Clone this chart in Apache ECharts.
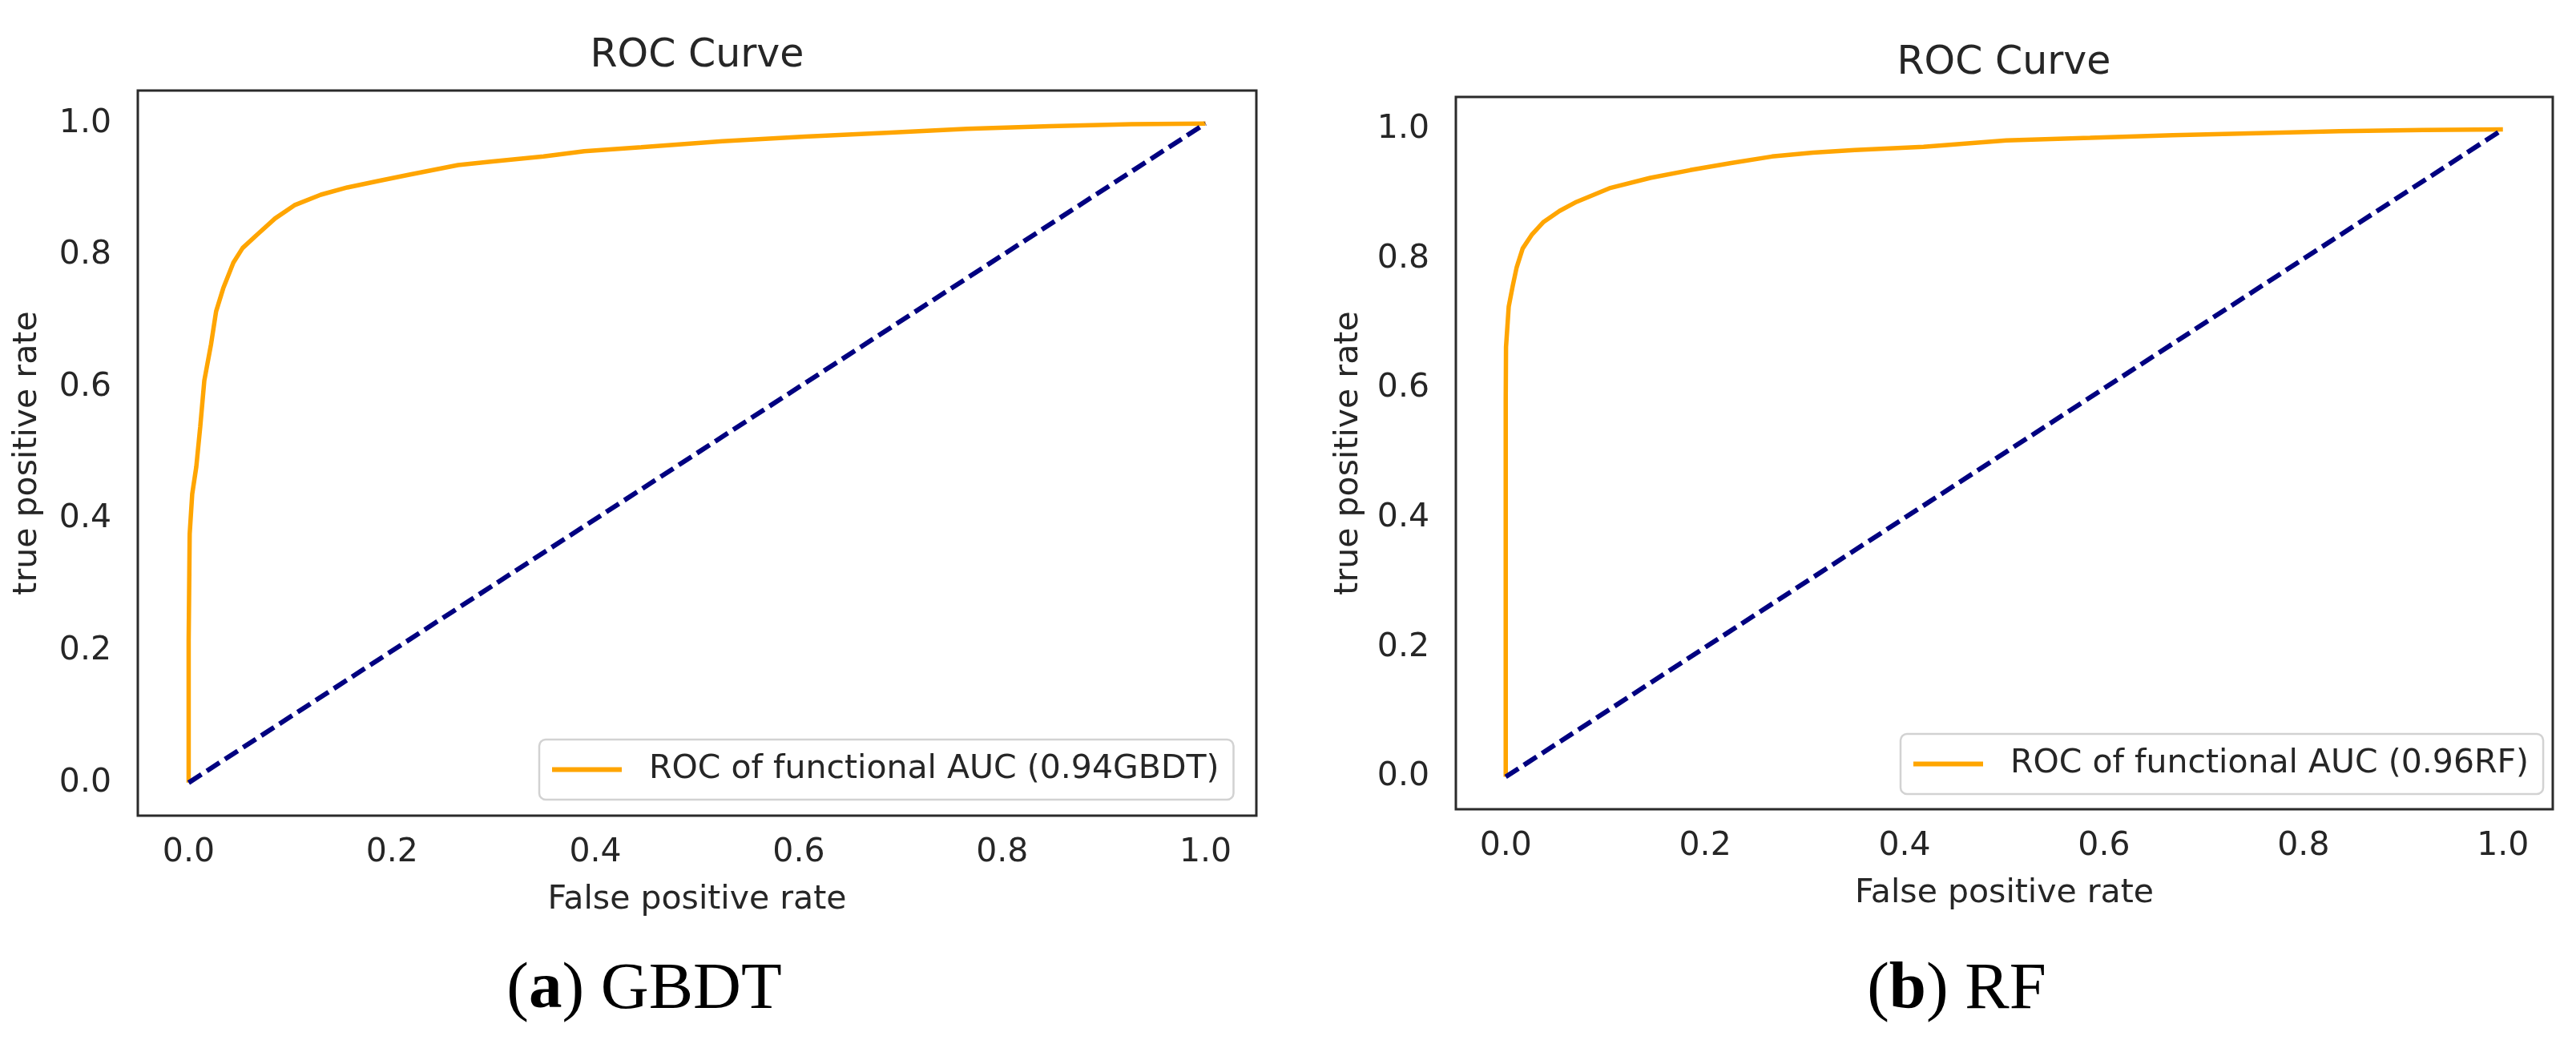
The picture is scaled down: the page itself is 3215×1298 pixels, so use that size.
<!DOCTYPE html>
<html>
<head>
<meta charset="utf-8">
<script src="https://cdn.jsdelivr.net/npm/echarts@6/dist/echarts.min.js"></script>
<style>
html,body{margin:0;padding:0;background:#fff;}
#chart{width:3215px;height:1298px;}
</style>
</head>
<body>
<div id="chart"></div>
<script>
// ---- data ----
const tickValues = [0, 0.2, 0.4, 0.6, 0.8, 1.0];
const gbdtFpr = [0, 0, 0.001, 0.0035, 0.0075, 0.0114, 0.0154, 0.022, 0.027, 0.034, 0.044, 0.053, 0.067, 0.085, 0.104, 0.130, 0.156, 0.187, 0.216, 0.265, 0.297, 0.349, 0.389, 0.445, 0.525, 0.606, 0.686, 0.766, 0.847, 0.927, 1.0];
const gbdtTpr = [0, 0.215, 0.377, 0.438, 0.479, 0.54, 0.61, 0.665, 0.715, 0.75, 0.789, 0.811, 0.831, 0.856, 0.876, 0.892, 0.903, 0.913, 0.922, 0.937, 0.942, 0.950, 0.958, 0.964, 0.973, 0.980, 0.986, 0.992, 0.996, 0.999, 1.0];
const rfFpr = [0, 0, 0.0003, 0.003, 0.007, 0.011, 0.017, 0.026, 0.038, 0.054, 0.071, 0.104, 0.145, 0.185, 0.226, 0.267, 0.308, 0.350, 0.419, 0.502, 0.586, 0.669, 0.753, 0.836, 0.920, 1.0];
const rfTpr = [0, 0.581, 0.664, 0.726, 0.758, 0.787, 0.816, 0.837, 0.857, 0.874, 0.888, 0.909, 0.925, 0.937, 0.948, 0.958, 0.964, 0.968, 0.973, 0.983, 0.987, 0.991, 0.994, 0.997, 0.999, 1.0];
const diagX = [0, 1];
const diagY = [0, 1];
const gbdtName = 'ROC of functional AUC (0.94GBDT)';
const rfName = 'ROC of functional AUC (0.96RF)';
const titleText = 'ROC Curve';
const xName = 'False positive rate';
const yName = 'true positive rate';

// ---- chart ----
const TXT = '#262626';
const FONT = 'DejaVu Sans';
const pair = (xs, ys) => xs.map((x, i) => [x, ys[i]]);

function xAxisCfg(gi) {
  return {
    type: 'value', gridIndex: gi, min: -0.05, max: 1.05,
    name: xName, nameLocation: 'middle', nameGap: 85,
    nameTextStyle: {fontFamily: FONT, fontSize: 41, color: TXT},
    axisLine: {show: false}, axisTick: {show: false}, splitLine: {show: false},
    axisLabel: {customValues: tickValues, formatter: v => v.toFixed(1), margin: 26,
      fontFamily: FONT, fontSize: 41, color: TXT}
  };
}
function yAxisCfg(gi, gap) {
  return {
    type: 'value', gridIndex: gi, min: -0.05, max: 1.05,
    name: yName, nameLocation: 'middle', nameGap: gap, nameRotate: 90,
    nameTextStyle: {fontFamily: FONT, fontSize: 41, color: TXT},
    axisLine: {show: false}, axisTick: {show: false}, splitLine: {show: false},
    axisLabel: {customValues: tickValues, formatter: v => v.toFixed(1), margin: 33,
      fontFamily: FONT, fontSize: 41, color: TXT}
  };
}
function legendCfg(name, left, top) {
  return {
    data: [name], left: left, top: top, orient: 'horizontal',
    icon: 'rect', itemWidth: 87, itemHeight: 6,
    backgroundColor: '#fff', borderColor: '#d2d2d2', borderWidth: 2.5, borderRadius: 8,
    padding: [17, 18, 17, 16],
    textStyle: {fontFamily: FONT, fontSize: 41, color: TXT, padding: [0, 0, 0, 29]}
  };
}

const chart = echarts.init(document.getElementById('chart'), null, {renderer: 'canvas'});
chart.setOption({
  animation: false,
  backgroundColor: '#fff',
  grid: [
    {left: 172, top: 113, width: 1396, height: 905, show: true, borderColor: '#2b2b2b', borderWidth: 3, backgroundColor: 'transparent'},
    {left: 1817, top: 121, width: 1369, height: 889, show: true, borderColor: '#2b2b2b', borderWidth: 3, backgroundColor: 'transparent'}
  ],
  xAxis: [xAxisCfg(0), xAxisCfg(1)],
  yAxis: [yAxisCfg(0, 117), yAxisCfg(1, 113)],
  legend: [legendCfg(gbdtName, 673, 923), legendCfg(rfName, 2372, 916)],
  series: [
    {name: gbdtName, type: 'line', xAxisIndex: 0, yAxisIndex: 0, data: pair(gbdtFpr, gbdtTpr),
      symbol: 'none', showSymbol: false, color: '#FFA500', lineStyle: {color: '#FFA500', width: 5.5}, z: 2},
    {name: 'diag-a', type: 'line', xAxisIndex: 0, yAxisIndex: 0, data: pair(diagX, diagY),
      symbol: 'none', showSymbol: false, lineStyle: {color: '#000080', width: 6, type: [19, 8]}, z: 3},
    {name: rfName, type: 'line', xAxisIndex: 1, yAxisIndex: 1, data: pair(rfFpr, rfTpr),
      symbol: 'none', showSymbol: false, color: '#FFA500', lineStyle: {color: '#FFA500', width: 5.5}, z: 2},
    {name: 'diag-b', type: 'line', xAxisIndex: 1, yAxisIndex: 1, data: pair(diagX, diagY),
      symbol: 'none', showSymbol: false, lineStyle: {color: '#000080', width: 6, type: [19, 8]}, z: 3}
  ],
  graphic: [
    {type: 'text', x: 870, y: 70, style: {text: titleText, font: '49px "DejaVu Sans"', fill: TXT, align: 'center', verticalAlign: 'middle'}},
    {type: 'text', x: 2501, y: 79, style: {text: titleText, font: '49px "DejaVu Sans"', fill: TXT, align: 'center', verticalAlign: 'middle'}},
    {type: 'text', x: 804, y: 1236, style: {text: '({b|a}) GBDT', font: '83px "Liberation Serif"', fill: '#000', align: 'center', verticalAlign: 'middle',
      rich: {b: {fontWeight: 'bold', fontSize: 83, fontFamily: 'Liberation Serif', fill: '#000'}}}},
    {type: 'text', x: 2442, y: 1236, style: {text: '({b|b}) RF', font: '83px "Liberation Serif"', fill: '#000', align: 'center', verticalAlign: 'middle',
      rich: {b: {fontWeight: 'bold', fontSize: 83, fontFamily: 'Liberation Serif', fill: '#000'}}}}
  ]
});
</script>
</body>
</html>
